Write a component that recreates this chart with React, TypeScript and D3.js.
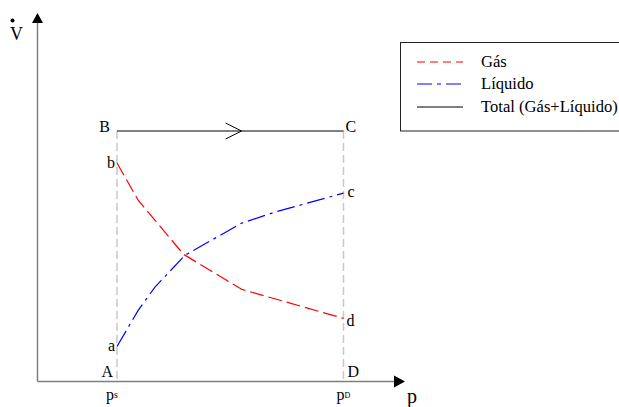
import * as d3 from "d3";

// pressure positions (suction / discharge) and total flow
const P_S = 1;
const P_D = 4;
const TOTAL = 10;

// gas flow falls from b to d, liquid rises from a to c
const gasP = [1, 1.28, 1.88, 2.65, 4];
const gasV = [8.72, 7.24, 5.08, 3.68, 2.52];
const liqP = [1, 1.28, 1.5, 1.9, 2.65, 3.09, 4];
const liqV = [1.4, 2.84, 3.76, 5.04, 6.32, 6.76, 7.52];

const legendLabels = ["Gás", "Líquido", "Total (Gás+Líquido)"];

const W = 619;
const H = 407;
const FONT = "'Liberation Serif', 'Times New Roman', serif";

export default function App() {
  const x = d3.scaleLinear().domain([P_S, P_D]).range([117, 343.5]);
  const y = d3.scaleLinear().domain([0, TOTAL]).range([381.5, 131]);

  const origin = { x: 37.5, y: y(0) };
  const axisEndX = 405;
  const axisTopY = 13;

  const line = d3
    .line<[number, number]>()
    .x((d) => x(d[0]))
    .y((d) => y(d[1]));

  const gasPath = line(gasP.map((p, i) => [p, gasV[i]]));
  const liqPath = line(liqP.map((p, i) => [p, liqV[i]]));

  const xs = x(P_S);
  const xd = x(P_D);
  const yTop = y(TOTAL);
  const tip = xs + 0.55 * (xd - xs);

  const label = (t: string, lx: number, ly: number, anchor = "start") => (
    <text x={lx} y={ly} textAnchor={anchor} fontSize={16}>
      {t}
    </text>
  );

  return (
    <svg
      width={W}
      height={H}
      style={{ position: "absolute", left: 0, top: 0, background: "#fff" }}
      fontFamily={FONT}
    >
      {/* guide lines at ps and pD */}
      {[xs, xd].map((gx, i) => (
        <line
          key={i}
          x1={gx}
          x2={gx}
          y1={yTop}
          y2={origin.y}
          stroke="#c8c8c8"
          strokeWidth={1.5}
          strokeDasharray="8,4"
        />
      ))}

      {/* axes */}
      <line x1={origin.x} y1={origin.y} x2={origin.x} y2={axisTopY + 8} stroke="#7f7f7f" strokeWidth={1.5} />
      <line x1={origin.x} y1={origin.y} x2={axisEndX - 8} y2={origin.y} stroke="#7f7f7f" strokeWidth={1.5} />
      <path
        d={`M${origin.x},${axisTopY} L${origin.x - 5.5},${axisTopY + 10} L${origin.x + 5.5},${axisTopY + 10} Z`}
        fill="#000"
      />
      <path
        d={`M${axisEndX},${origin.y} L${axisEndX - 11},${origin.y - 6} L${axisEndX - 11},${origin.y + 6} Z`}
        fill="#000"
      />

      {/* total line B-C with direction chevron */}
      <line x1={xs} x2={xd} y1={yTop} y2={yTop} stroke="#000" strokeWidth={1} />
      <path
        d={`M${tip - 16},${yTop - 8} L${tip},${yTop} L${tip - 16},${yTop + 8}`}
        fill="none"
        stroke="#000"
        strokeWidth={1}
      />

      {/* curves */}
      <path d={gasPath ?? ""} fill="none" stroke="#ff0000" strokeWidth={1.2} strokeDasharray="14,5" />
      <path d={liqPath ?? ""} fill="none" stroke="#0000ff" strokeWidth={1.2} strokeDasharray="18,5,3,5" />

      {/* point labels */}
      {label("B", xs - 7, yTop + 0.5, "end")}
      {label("C", xd + 2, yTop + 0.5)}
      {label("b", xs - 2, y(gasV[0]) + 5, "end")}
      {label("c", xd + 4, y(liqV[liqV.length - 1]) + 4)}
      {label("a", xs - 2, y(liqV[0]) + 5, "end")}
      {label("d", xd + 3, y(gasV[gasV.length - 1]) + 8)}
      {label("A", xs - 4, origin.y - 4.5, "end")}
      {label("D", xd + 4, origin.y - 4.5)}

      {/* pressure tick labels */}
      <text x={xs - 11} y={400} fontSize={16}>
        p<tspan fontSize={10} dy={-2.5}>s</tspan>
      </text>
      <text x={xd - 7} y={400} fontSize={16}>
        p<tspan fontSize={8} dy={-2.5}>D</tspan>
      </text>

      {/* axis titles */}
      <text x={407} y={403} fontSize={20}>
        p
      </text>
      <text x={10} y={40} fontSize={18}>
        V
      </text>
      <circle cx={12.5} cy={20.5} r={2} fill="#000" />

      {/* legend */}
      <rect x={400.5} y={42.5} width={240} height={88.5} fill="#fff" stroke="#222" strokeWidth={1} />
      {legendLabels.map((t, i) => {
        const ly = [62, 84, 107][i];
        const stroke = ["#ff0000", "#0000ff", "#000"][i];
        const dash = ["8,5", "15,5,4,5", undefined][i];
        return (
          <g key={t}>
            <line x1={417} x2={463} y1={ly} y2={ly} stroke={stroke} strokeWidth={1.2} strokeDasharray={dash} />
            <text x={481} y={ly + 5} fontSize={16.6}>
              {t}
            </text>
          </g>
        );
      })}
    </svg>
  );
}
